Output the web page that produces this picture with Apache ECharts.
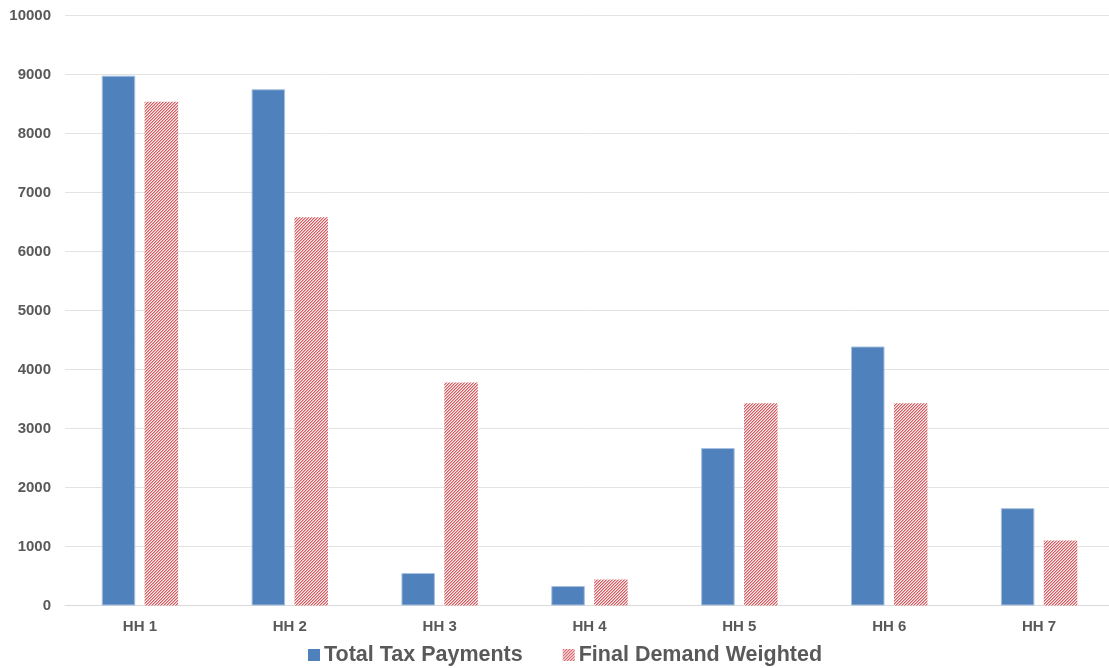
<!DOCTYPE html>
<html>
<head>
<meta charset="utf-8">
<style>
  html, body { margin: 0; padding: 0; background: #ffffff; overflow: hidden; }
  #chart { width: 1120px; height: 668px; }
</style>
<script src="https://cdn.jsdelivr.net/npm/echarts@6/dist/echarts.min.js"></script>
</head>
<body>
<div id="chart"></div>
<script>
// Household categories and the two compared measures
const categories = ['HH 1', 'HH 2', 'HH 3', 'HH 4', 'HH 5', 'HH 6', 'HH 7'];
const totalTaxPayments = [8980, 8750, 550, 330, 2670, 4390, 1650];
const finalDemandWeighted = [8540, 6580, 3780, 440, 3430, 3430, 1100];
const yTicks = { min: 0, max: 10000, interval: 1000 };

// Fine upward-diagonal red hatch used for the second series
function makeHatch() {
  const c = document.createElement('canvas');
  c.width = 3; c.height = 3;
  const ctx = c.getContext('2d');
  const colors = ['#d35a62', '#eda6a8', '#fcefef'];
  for (let x = 0; x < 3; x++) {
    for (let y = 0; y < 3; y++) {
      ctx.fillStyle = colors[(x + y) % 3];
      ctx.fillRect(x, y, 1, 1);
    }
  }
  return c;
}

const hatch = { image: makeHatch(), repeat: 'repeat' };
const labelColor = '#595959';
const fontFamily = 'Liberation Sans, Arial, sans-serif';

const chart = echarts.init(document.getElementById('chart'), null, { renderer: 'canvas' });
chart.setOption({
  animation: false,
  backgroundColor: '#ffffff',
  grid: { left: 65, top: 15.5, width: 1049, bottom: 62.5, containLabel: false },
  legend: {
    left: 308,
    top: 644,
    padding: 0,
    itemWidth: 12,
    itemHeight: 12,
    itemGap: 40,
    textStyle: {
      fontFamily: fontFamily,
      fontWeight: 'bold',
      fontSize: 21.5,
      color: labelColor,
      padding: [0, 0, 0, -1]
    },
    data: [
      { name: 'Total Tax Payments', icon: 'rect', itemStyle: { borderWidth: 0 } },
      { name: 'Final Demand Weighted', icon: 'rect', itemStyle: { borderWidth: 0 } }
    ]
  },
  xAxis: {
    type: 'category',
    data: categories,
    axisTick: { show: false },
    axisLine: { lineStyle: { color: '#d9d9d9', width: 1 } },
    axisLabel: {
      margin: 14,
      fontFamily: fontFamily,
      fontWeight: 'bold',
      fontSize: 15,
      color: labelColor
    }
  },
  yAxis: {
    type: 'value',
    min: yTicks.min,
    max: yTicks.max,
    interval: yTicks.interval,
    axisLine: { show: false },
    axisTick: { show: false },
    splitLine: { lineStyle: { color: '#e3e3e3', width: 1 } },
    axisLabel: {
      margin: 14,
      fontFamily: fontFamily,
      fontWeight: 'bold',
      fontSize: 15,
      color: labelColor,
      formatter: (v) => String(v)
    }
  },
  series: [
    {
      name: 'Total Tax Payments',
      type: 'bar',
      data: totalTaxPayments,
      barWidth: 33.5,
      barGap: '28%',
      itemStyle: { color: '#4f81bd', borderColor: '#a8c0de', borderWidth: 1 }
    },
    {
      name: 'Final Demand Weighted',
      type: 'bar',
      data: finalDemandWeighted,
      barWidth: 33.5,
      itemStyle: { color: hatch }
    }
  ]
});
</script>
</body>
</html>
